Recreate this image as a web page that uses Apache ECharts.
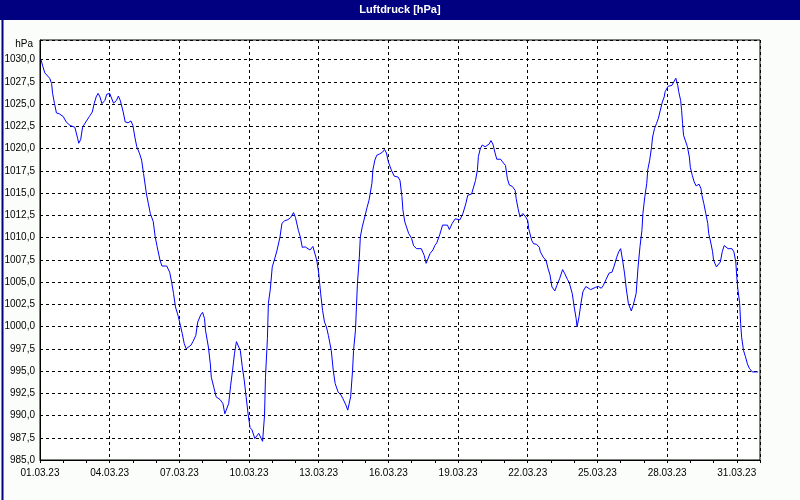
<!DOCTYPE html>
<html>
<head>
<meta charset="utf-8">
<script src="https://cdn.jsdelivr.net/npm/echarts@6/dist/echarts.min.js"></script>
<style>
html,body{margin:0;padding:0;background:#fbfdfb;}
#chart{width:800px;height:500px;}
</style>
</head>
<body>
<div id="chart"></div>
<script>
// Hours since 01.03.23 00:00
var hours = [1,3,5,10,12,13,15,17,20,24,26,27,31,33,36,39,40,42,44,48,51,54,56,58,60,62,64,67,69,72,74,76,79,81,83,86,88,91,94,96,98,100,103,105,107,110,112,114,117,119,121,124,126,131,134,136,138,140,143,145,147,149,151,153,156,158,161,163,166,168,170,171,174,176,177,180,182,186,189,191,193,195,197,199,201,203,205,207,209,211,213,215,217,219,222,224,226,228,230,232,233,235,236,238,240,243,245,248,250,253,256,259,262,264,267,269,271,274,276,279,282,284,286,288,290,292,294,296,298,301,303,305,308,311,313,316,318,319,321,323,324,326,327,328,330,331,333,336,338,340,343,344,346,348,351,354,356,358,360,363,366,370,372,374,375,377,379,381,384,386,389,394,397,399,401,403,406,408,410,413,416,418,421,423,426,429,431,434,437,440,442,446,448,450,452,453,455,457,460,462,464,466,468,470,472,476,478,481,483,485,488,491,492,494,496,499,502,504,505,508,510,513,516,517,520,523,525,527,529,532,534,537,540,542,545,547,550,552,554,555,557,559,561,564,566,569,571,574,577,580,582,585,588,591,593,596,598,600,602,604,606,608,611,613,616,618,620,622,623,625,627,628,630,632,633,635,637,639,641,643,645,646,649,651,653,655,657,659,660,662,663,664,665,667,669,671,672,674,676,678,681,683,684,686,688,690,691,693,695,696,699,701,703,705,707,709,711,713,715,717,719,720,721,723,724,725,727,729,731,733,736,738,740,742];
var pressure = [1030.0,1029.2,1028.5,1027.9,1027.3,1026.2,1025.05,1024.0,1023.9,1023.6,1023.4,1023.0,1022.6,1022.8,1022.4,1021.1,1020.6,1021.0,1022.4,1023.1,1023.6,1024.1,1025.05,1025.8,1026.2,1025.8,1025.05,1025.4,1026.1,1026.2,1026.0,1025.1,1025.4,1025.9,1025.4,1024.1,1023.0,1022.9,1023.1,1022.6,1021.3,1020.2,1019.4,1018.7,1017.2,1014.9,1013.8,1012.7,1011.8,1010.1,1009.0,1007.45,1006.8,1006.8,1006.1,1005.0,1003.7,1002.2,1001.1,1000.15,999.2,998.1,997.5,997.3,997.9,998.3,999.0,1000.5,1001.3,1001.6,1000.9,999.6,997.7,995.8,994.3,993.0,992.1,991.8,991.35,990.2,990.15,991.35,993.4,995.1,997.0,998.3,998.3,997.3,995.5,994.0,992.1,990.2,988.65,988.4,987.4,987.4,988.0,987.8,987.1,990.0,994.3,998.65,1002.6,1004.2,1006.7,1007.8,1008.6,1010.07,1011.6,1011.9,1012.0,1012.25,1012.8,1012.25,1010.8,1010.07,1008.9,1008.95,1009.1,1008.6,1009.0,1008.95,1007.45,1006.0,1003.7,1001.8,1000.5,999.95,999.0,997.3,995.1,993.6,992.65,992.3,991.9,991.2,990.6,990.6,992.1,995.1,997.3,999.6,1002.2,1004.8,1007.8,1010.07,1011.2,1012.5,1013.4,1014.2,1016.1,1017.6,1018.7,1019.25,1019.4,1019.6,1019.9,1019.5,1018.5,1017.6,1016.9,1016.8,1016.4,1014.6,1013.1,1011.75,1011.6,1010.45,1009.9,1009.1,1008.75,1008.75,1008.0,1007.1,1007.1,1008.2,1008.6,1009.1,1009.4,1010.3,1011.4,1011.6,1011.4,1010.9,1011.6,1012.1,1012.25,1012.0,1012.7,1013.8,1014.75,1014.9,1015.0,1016.4,1017.6,1019.1,1020.0,1020.4,1020.2,1020.1,1020.5,1020.9,1020.5,1019.6,1018.8,1018.8,1018.5,1018.1,1016.6,1015.9,1015.75,1015.3,1014.4,1013.25,1012.3,1012.7,1012.3,1011.9,1011.0,1009.7,1009.3,1009.25,1008.9,1008.4,1007.8,1007.4,1006.5,1005.8,1004.45,1004.0,1004.6,1005.4,1006.4,1006.0,1005.3,1004.9,1003.7,1002.2,1000.9,999.95,1001.1,1002.6,1003.9,1004.5,1004.4,1004.15,1004.2,1004.4,1004.5,1004.3,1004.6,1005.3,1006.0,1006.1,1006.7,1007.8,1008.4,1008.75,1007.45,1006.0,1004.1,1002.6,1001.75,1002.4,1003.7,1006.7,1009.0,1010.8,1012.7,1014.6,1016.1,1017.6,1018.7,1020.2,1021.3,1022.25,1022.8,1023.4,1024.3,1025.2,1025.8,1026.4,1027.0,1027.0,1027.1,1027.5,1027.9,1027.1,1026.4,1025.4,1024.3,1022.8,1021.5,1021.3,1020.2,1019.05,1017.9,1017.0,1016.25,1015.8,1016.0,1015.5,1014.75,1013.8,1012.7,1011.6,1010.45,1009.5,1008.4,1007.45,1006.7,1006.5,1007.25,1008.4,1009.1,1009.25,1008.75,1008.65,1008.75,1008.4,1007.25,1005.6,1004.3,1002.6,1000.35,998.8,997.3,996.6,995.8,995.3,994.9,994.7,994.9,994.9];
var titleText = 'Luftdruck [hPa]';
var unitText = 'hPa';
var yMin = 985, yMax = 1032.2, yStep = 2.5;
var xMax = 744, xStep = 72, dayStep = 24;

function fmtDate(h){
  var d = Math.round(h / 24) + 1;
  return (d < 10 ? '0' + d : '' + d) + '.03.23';
}

var data = hours.map(function(h, i){ return [h, pressure[i]]; });
var font = '"Liberation Sans", Arial, sans-serif';

var chart = echarts.init(document.getElementById('chart'), null, {renderer: 'canvas'});
chart.setOption({
  animation: false,
  backgroundColor: '#fbfdfb',
  grid: {left: 40, right: 40, top: 40, bottom: 40, show: true, backgroundColor: '#ffffff', borderColor: '#000000', borderWidth: 1},
  graphic: [
    {type: 'rect', left: 0, top: 0, shape: {width: 800, height: 20}, style: {fill: '#000080'}, z: 10},
    {type: 'rect', left: 0, top: 0, shape: {width: 799, height: 499}, style: {fill: 'none', stroke: '#000080', lineWidth: 2}, z: 10},
    {type: 'text', left: 'center', top: 4, style: {text: titleText, fill: '#ffffff', font: 'bold 11px ' + font}, z: 11},
    {type: 'text', right: 767, top: 39, style: {text: unitText, fill: '#000000', font: '10px ' + font}, z: 11}
  ],
  xAxis: [{
    type: 'value', min: 0, max: xMax, interval: xStep,
    axisLine: {show: true, lineStyle: {color: '#000', width: 1}},
    axisTick: {show: false},
    axisLabel: {color: '#000', fontFamily: font, fontSize: 10, margin: 8,
      formatter: function(v){ return v > 720 ? '' : fmtDate(v); }},
    splitLine: {show: true, lineStyle: {color: '#000', type: [3, 3], width: 1}}
  }, {
    type: 'value', min: 0, max: xMax, interval: dayStep, position: 'bottom',
    axisLine: {show: false},
    axisTick: {show: true, length: 3, lineStyle: {color: '#000'}},
    axisLabel: {show: false},
    splitLine: {show: false}
  }],
  yAxis: {
    type: 'value', min: yMin, max: yMax, interval: yStep,
    axisLine: {show: true, lineStyle: {color: '#000', width: 1}},
    axisTick: {show: false},
    axisLabel: {color: '#000', fontFamily: font, fontSize: 10, margin: 5,
      formatter: function(v){ return v > 1030.01 ? '' : v.toFixed(1).replace('.', ','); }},
    splitLine: {show: true, lineStyle: {color: '#000', type: [3, 3], width: 1}}
  },
  series: [{
    type: 'line', data: data, xAxisIndex: 0, showSymbol: false, symbol: 'none',
    lineStyle: {color: '#0000ff', width: 1}, smooth: false
  }]
});
</script>
</body>
</html>
